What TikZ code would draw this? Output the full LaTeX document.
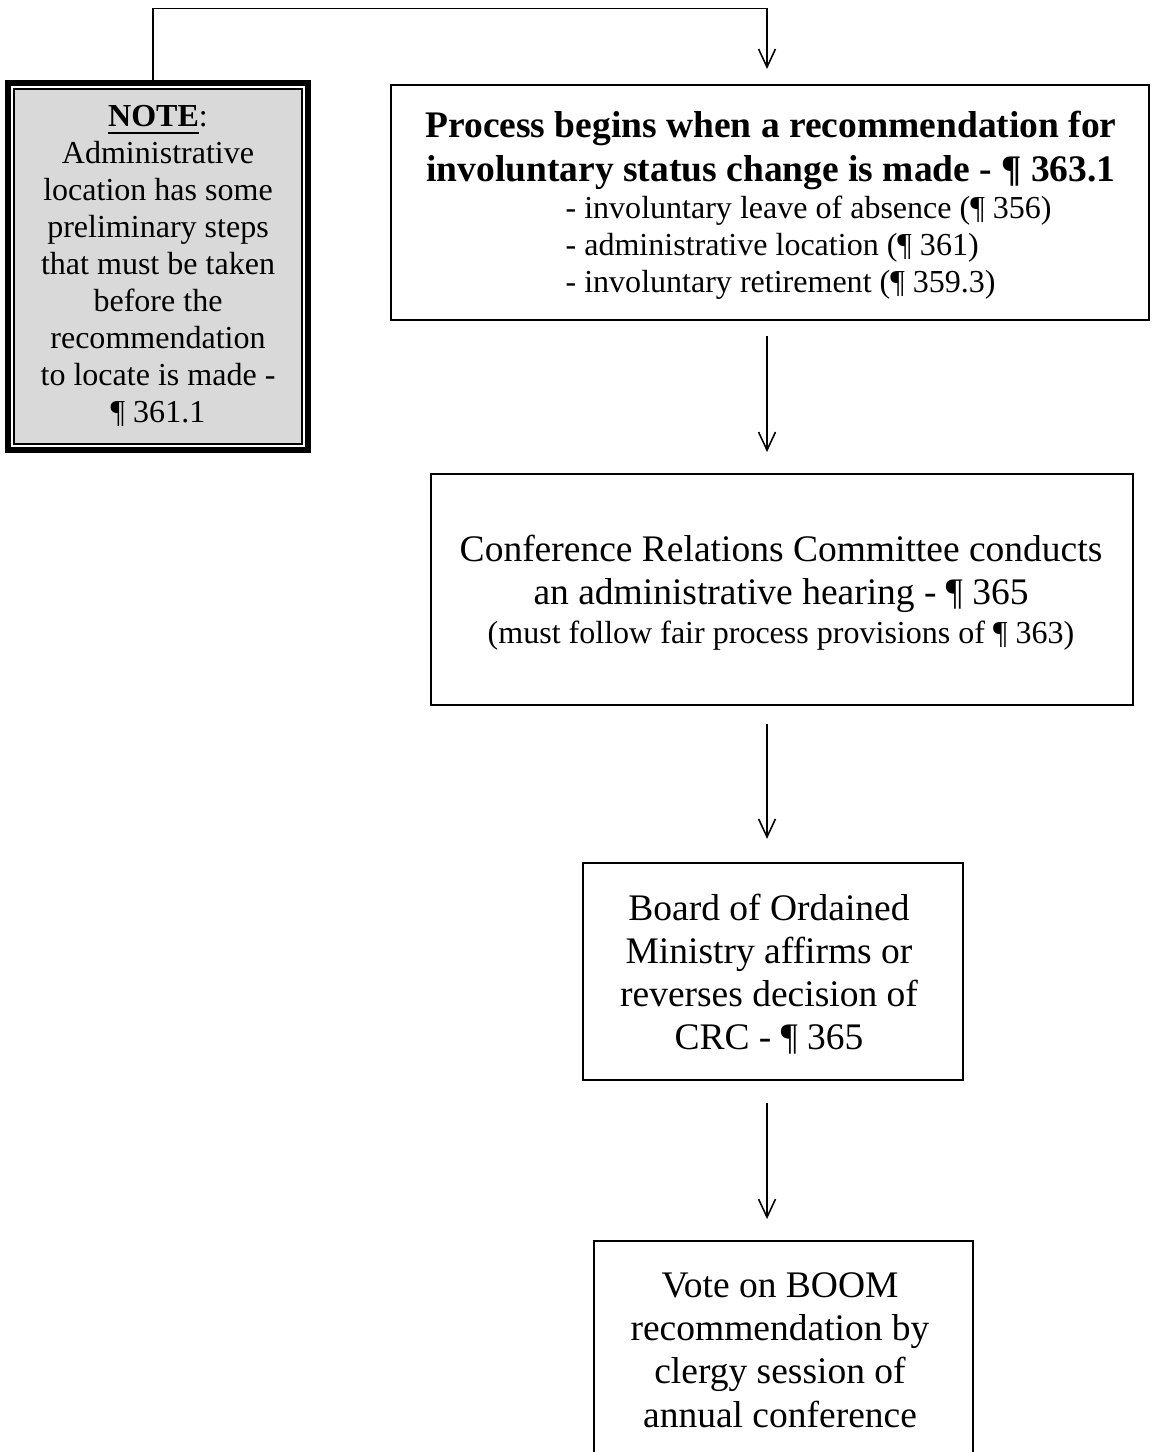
\documentclass[tikz,border=0pt]{standalone}
\usepackage{fontspec}
\setmainfont{Liberation Serif}
\usetikzlibrary{arrows.meta,calc,fit}
\definecolor{notegray}{RGB}{217,217,217}
\newcommand{\thickul}[1]{\setbox0\hbox{#1}\rlap{\rule[-2.2pt]{\wd0}{0.65pt}}#1}
\begin{document}
\begin{tikzpicture}[x=0.32pt,y=-0.32pt,
  box/.style={draw,line width=0.65pt,inner sep=0pt},
  arr/.style={line width=0.5pt,-{Straight Barb[length=5.8pt,width=5.4pt]}},
  txtA/.style={font=\fontsize{12}{14}\selectfont,inner sep=0pt,anchor=base},
  txtB/.style={font=\fontsize{12}{14}\selectfont\bfseries,inner sep=0pt,anchor=base},
  txtC/.style={font=\fontsize{10.25}{12}\selectfont,inner sep=0pt,anchor=base},
  txtL/.style={font=\fontsize{10.25}{12}\selectfont,inner sep=0pt,anchor=base west}]
\useasboundingbox (0,0) rectangle (1151,1452);
\clip (0,0) rectangle (1151,1452);

% NOTE box
\node[draw,line width=1.92pt,fill=white,inner sep=0pt,fit={(8,83) (308,450)}] (note) {};
\node[draw,line width=0.4pt,fill=notegray,inner sep=0pt,fit={(14,89) (302,444)}] (noteinner) {};
\node[txtC] (n0) at (158,127) {\thickul{\textbf{NOTE}}:};
\node[txtC] (n1) at (158,164) {Administrative};
\node[txtC] (n2) at (158,201) {location has some};
\node[txtC] (n3) at (158,238) {preliminary steps};
\node[txtC] (n4) at (158,275) {that must be taken};
\node[txtC] (n5) at (158,312) {before the};
\node[txtC] (n6) at (158,349) {recommendation};
\node[txtC] (n7) at (158,386) {to locate is made -};
\node[txtC] (n8) at (158,423) {¶ 361.1};

% Boxes
\node[box,fit={(391,85) (1149,320)}] (b1) {};
\node[box,fit={(431,474) (1133,705)}] (b2) {};
\node[box,fit={(583,863) (963,1080)}] (b3) {};
\node[box,fit={(594,1241) (973,1530)}] (b4) {};

% Box 1 text
\node[txtB] (p1) at (771,138) {Process begins when a recommendation for};
\node[txtB] (p2) at (771,182) {involuntary status change is made - ¶ 363.1};
\node[txtL] (p3) at (565,219) {- involuntary leave of absence (¶ 356)};
\node[txtL] (p4) at (565,256) {- administrative location (¶ 361)};
\node[txtL] (p5) at (565,293) {- involuntary retirement (¶ 359.3)};

% Box 2 text
\node[txtA] (q1) at (781,562) {Conference Relations Committee conducts};
\node[txtA] (q2) at (781,605) {an administrative hearing - ¶ 365};
\node[txtC] (q3) at (781,643) {(must follow fair process provisions of ¶ 363)};

% Box 3 text
\node[txtA] (r1) at (769,920) {Board of Ordained};
\node[txtA] (r2) at (769,963) {Ministry affirms or};
\node[txtA] (r3) at (769,1006) {reverses decision of};
\node[txtA] (r4) at (769,1049) {CRC - ¶ 365};

% Box 4 text
\node[txtA] (s1) at (780,1297) {Vote on BOOM};
\node[txtA] (s2) at (780,1340) {recommendation by};
\node[txtA] (s3) at (780,1383) {clergy session of};
\node[txtA] (s4) at (780,1427) {annual conference};

% Connectors
\coordinate (ax) at (767,0);
\coordinate (c1) at (153,8.5);
\coordinate (c2) at (767,8.5);
\draw[arr,shorten >=4.8pt] (note.north -| c1) -- (c1) -- (c2) -- (b1.north -| c2);
\draw[arr,shorten <=4.8pt,shorten >=6.7pt] (b1.south -| ax) -- (b2.north -| ax);
\draw[arr,shorten <=5.8pt,shorten >=7.4pt] (b2.south -| ax) -- (b3.north -| ax);
\draw[arr,shorten <=7pt,shorten >=6.7pt] (b3.south -| ax) -- (b4.north -| ax);
\end{tikzpicture}
\end{document}
